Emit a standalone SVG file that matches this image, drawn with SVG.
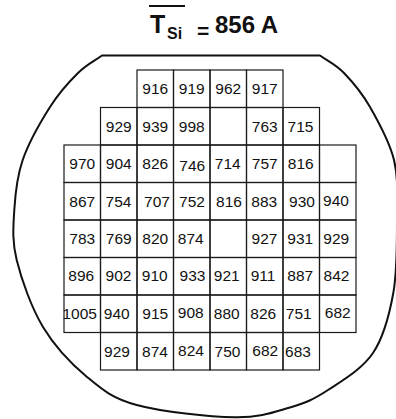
<svg xmlns="http://www.w3.org/2000/svg" width="396" height="419" viewBox="0 0 396 419">
<style>
.bg{fill:#ffffff}
.wafer{fill:none;stroke:#111;stroke-width:2;stroke-linejoin:round}
.cell rect{fill:none;stroke:#1a1a1a;stroke-width:1.2}
.cell text{font-family:"Liberation Sans",Arial,sans-serif;font-size:15.5px;fill:#111;text-anchor:middle}
.title{font-family:"Liberation Sans",Arial,sans-serif;font-weight:bold;fill:#111}
</style>
<rect class="bg" x="0" y="0" width="396" height="419"/>
<g id="title">
<line x1="149" y1="6" x2="185" y2="6" stroke="#111" stroke-width="2"/>
<text class="title" x="150" y="33.3" font-size="25">T</text>
<text class="title" x="167" y="39" font-size="16" font-weight="normal">Si</text>
<text class="title" x="197" y="37.5" font-size="21">=</text>
<text class="title" x="215" y="33.3" font-size="24">856 A</text>
</g>
<g id="wafer">
<path class="wafer" d="M102,55.5 L320,55.5 C328,61.3 335.7,64.4 344,73 C352.3,81.6 361.7,92.5 370,107 C378.3,121.5 389.5,141.2 394,160 C398.5,178.8 397.1,197.8 397,220 C396.9,242.2 397.3,270.8 393.3,293 C389.3,315.2 383.9,336.8 373,353 C362.1,369.2 341.8,380.9 328,390 C314.2,399.1 305.5,403 290,407.5 C274.5,412 260.6,417.7 235,417.3 C209.4,416.9 161.4,411.8 136.7,405 C112,398.2 102.3,389.7 86.7,376.7 C71.1,363.7 54.7,346.5 43,327 C31.3,307.5 21.5,279.5 16.7,260 C11.9,240.5 13.3,226.7 14.3,210 C15.3,193.3 16.75,177.2 22.7,160 C28.65,142.8 40.8,121.5 50,107 C59.2,92.5 69.3,81.6 78,73 C86.7,64.4 94,61.3 102,55.5 Z"/>
</g>
<g id="grid">
<g id="r1c3" class="cell"><rect x="137" y="70" width="36.5" height="37.5"/><text x="155.25" y="94.25">916</text></g>
<g id="r1c4" class="cell"><rect x="173.5" y="70" width="36.5" height="37.5"/><text x="191.75" y="94.25">919</text></g>
<g id="r1c5" class="cell"><rect x="210" y="70" width="36.5" height="37.5"/><text x="228.25" y="94.25">962</text></g>
<g id="r1c6" class="cell"><rect x="246.5" y="70" width="36.5" height="37.5"/><text x="264.75" y="94.25">917</text></g>

<g id="r2c2" class="cell"><rect x="100.5" y="107.5" width="36.5" height="37.5"/><text x="118.75" y="131.75">929</text></g>
<g id="r2c3" class="cell"><rect x="137" y="107.5" width="36.5" height="37.5"/><text x="155.25" y="131.75">939</text></g>
<g id="r2c4" class="cell"><rect x="173.5" y="107.5" width="36.5" height="37.5"/><text x="191.75" y="131.75">998</text></g>
<g id="r2c5" class="cell"><rect x="210" y="107.5" width="36.5" height="37.5"/></g>
<g id="r2c6" class="cell"><rect x="246.5" y="107.5" width="36.5" height="37.5"/><text x="264.75" y="131.75">763</text></g>
<g id="r2c7" class="cell"><rect x="283" y="107.5" width="36.5" height="37.5"/><text x="300.5" y="131.75">715</text></g>

<g id="r3c1" class="cell"><rect x="64" y="145" width="36.5" height="37.5"/><text x="82.25" y="169.25">970</text></g>
<g id="r3c2" class="cell"><rect x="100.5" y="145" width="36.5" height="37.5"/><text x="118.75" y="169.25">904</text></g>
<g id="r3c3" class="cell"><rect x="137" y="145" width="36.5" height="37.5"/><text x="155.25" y="169.25">826</text></g>
<g id="r3c4" class="cell"><rect x="173.5" y="145" width="36.5" height="37.5"/><text x="192.25" y="170.5">746</text></g>
<g id="r3c5" class="cell"><rect x="210" y="145" width="36.5" height="37.5"/><text x="227.75" y="169.25">714</text></g>
<g id="r3c6" class="cell"><rect x="246.5" y="145" width="36.5" height="37.5"/><text x="264.75" y="169.25">757</text></g>
<g id="r3c7" class="cell"><rect x="283" y="145" width="36.5" height="37.5"/><text x="300.75" y="168.5">816</text></g>
<g id="r3c8" class="cell"><rect x="319.5" y="145" width="36.5" height="37.5"/></g>

<g id="r4c1" class="cell"><rect x="64" y="182.5" width="36.5" height="37.5"/><text x="82.25" y="206.75">867</text></g>
<g id="r4c2" class="cell"><rect x="100.5" y="182.5" width="36.5" height="37.5"/><text x="118.5" y="206.75">754</text></g>
<g id="r4c3" class="cell"><rect x="137" y="182.5" width="36.5" height="37.5"/><text x="157" y="206.75">707</text></g>
<g id="r4c4" class="cell"><rect x="173.5" y="182.5" width="36.5" height="37.5"/><text x="192" y="206.75">752</text></g>
<g id="r4c5" class="cell"><rect x="210" y="182.5" width="36.5" height="37.5"/><text x="229" y="206.75">816</text></g>
<g id="r4c6" class="cell"><rect x="246.5" y="182.5" width="36.5" height="37.5"/><text x="264.25" y="206.75">883</text></g>
<g id="r4c7" class="cell"><rect x="283" y="182.5" width="36.5" height="37.5"/><text x="302" y="206.75">930</text></g>
<g id="r4c8" class="cell"><rect x="319.5" y="182.5" width="36.5" height="37.5"/><text x="336" y="205.5">940</text></g>

<g id="r5c1" class="cell"><rect x="64" y="220" width="36.5" height="37.5"/><text x="82.25" y="244.25">783</text></g>
<g id="r5c2" class="cell"><rect x="100.5" y="220" width="36.5" height="37.5"/><text x="118.75" y="244.25">769</text></g>
<g id="r5c3" class="cell"><rect x="137" y="220" width="36.5" height="37.5"/><text x="155.25" y="244.25">820</text></g>
<g id="r5c4" class="cell"><rect x="173.5" y="220" width="36.5" height="37.5"/><text x="190.75" y="244.25">874</text></g>
<g id="r5c5" class="cell"><rect x="210" y="220" width="36.5" height="37.5"/></g>
<g id="r5c6" class="cell"><rect x="246.5" y="220" width="36.5" height="37.5"/><text x="264.5" y="244.25">927</text></g>
<g id="r5c7" class="cell"><rect x="283" y="220" width="36.5" height="37.5"/><text x="300.25" y="244.25">931</text></g>
<g id="r5c8" class="cell"><rect x="319.5" y="220" width="36.5" height="37.5"/><text x="336.25" y="244.25">929</text></g>

<g id="r6c1" class="cell"><rect x="64" y="257.5" width="36.5" height="37.5"/><text x="81.25" y="281.25">896</text></g>
<g id="r6c2" class="cell"><rect x="100.5" y="257.5" width="36.5" height="37.5"/><text x="118.5" y="281.25">902</text></g>
<g id="r6c3" class="cell"><rect x="137" y="257.5" width="36.5" height="37.5"/><text x="154.75" y="281.25">910</text></g>
<g id="r6c4" class="cell"><rect x="173.5" y="257.5" width="36.5" height="37.5"/><text x="192.5" y="281.25">933</text></g>
<g id="r6c5" class="cell"><rect x="210" y="257.5" width="36.5" height="37.5"/><text x="226.75" y="281.25">921</text></g>
<g id="r6c6" class="cell"><rect x="246.5" y="257.5" width="36.5" height="37.5"/><text x="263" y="281.25">911</text></g>
<g id="r6c7" class="cell"><rect x="283" y="257.5" width="36.5" height="37.5"/><text x="300.25" y="281.25">887</text></g>
<g id="r6c8" class="cell"><rect x="319.5" y="257.5" width="36.5" height="37.5"/><text x="336.5" y="281.25">842</text></g>

<g id="r7c1" class="cell"><rect x="64" y="295" width="36.5" height="37.5"/><text x="79.75" y="319.25">1005</text></g>
<g id="r7c2" class="cell"><rect x="100.5" y="295" width="36.5" height="37.5"/><text x="116.75" y="319.25">940</text></g>
<g id="r7c3" class="cell"><rect x="137" y="295" width="36.5" height="37.5"/><text x="155.25" y="319.25">915</text></g>
<g id="r7c4" class="cell"><rect x="173.5" y="295" width="36.5" height="37.5"/><text x="190.75" y="318.25">908</text></g>
<g id="r7c5" class="cell"><rect x="210" y="295" width="36.5" height="37.5"/><text x="226.75" y="319.25">880</text></g>
<g id="r7c6" class="cell"><rect x="246.5" y="295" width="36.5" height="37.5"/><text x="263.25" y="319.25">826</text></g>
<g id="r7c7" class="cell"><rect x="283" y="295" width="36.5" height="37.5"/><text x="298.75" y="319.25">751</text></g>
<g id="r7c8" class="cell"><rect x="319.5" y="295" width="36.5" height="37.5"/><text x="337.75" y="318.25">682</text></g>

<g id="r8c2" class="cell"><rect x="100.5" y="332.5" width="36.5" height="37.5"/><text x="117" y="356.75">929</text></g>
<g id="r8c3" class="cell"><rect x="137" y="332.5" width="36.5" height="37.5"/><text x="155" y="356.75">874</text></g>
<g id="r8c4" class="cell"><rect x="173.5" y="332.5" width="36.5" height="37.5"/><text x="191" y="355.75">824</text></g>
<g id="r8c5" class="cell"><rect x="210" y="332.5" width="36.5" height="37.5"/><text x="227.5" y="356.75">750</text></g>
<g id="r8c6" class="cell"><rect x="246.5" y="332.5" width="36.5" height="37.5"/><text x="265.25" y="355.75">682</text></g>
<g id="r8c7" class="cell"><rect x="283" y="332.5" width="36.5" height="37.5"/><text x="298" y="356.75">683</text></g>
</g>
</svg>
